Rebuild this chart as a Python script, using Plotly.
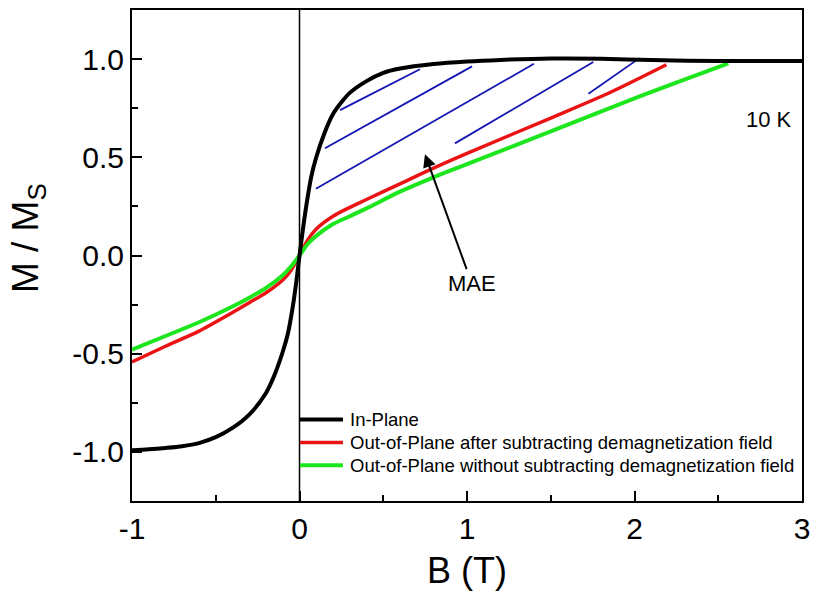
import plotly.graph_objects as go

# Field B (T) and reduced magnetisation M/Ms at 10 K
in_plane_b = [-1.0, -0.9, -0.8, -0.7, -0.6, -0.5, -0.4, -0.3, -0.2, -0.15, -0.1, -0.07,
              -0.04, -0.02, 0.0, 0.02, 0.04, 0.07, 0.1, 0.15, 0.2, 0.25, 0.3, 0.4,
              0.5, 0.6, 0.8, 1.0, 1.2, 1.5, 1.8, 2.1, 2.5, 3.0]
in_plane_m = [-0.992, -0.987, -0.980, -0.971, -0.955, -0.925, -0.878, -0.81, -0.70, -0.61,
              -0.49, -0.40, -0.26, -0.14, 0.0, 0.13, 0.25, 0.40, 0.50, 0.625, 0.72, 0.78,
              0.828, 0.888, 0.93, 0.952, 0.975, 0.988, 0.996, 1.003, 1.002, 0.995, 0.99, 0.99]

oop_sub_b = [-1.0, -0.8, -0.6, -0.4, -0.3, -0.2, -0.1, -0.05, 0.0, 0.05, 0.1, 0.2, 0.3,
             0.4, 0.6, 0.8, 1.0, 1.5, 1.854, 2.19]
oop_sub_m = [-0.542, -0.462, -0.385, -0.29, -0.24, -0.19, -0.125, -0.075, 0.0, 0.08, 0.135,
             0.20, 0.245, 0.285, 0.365, 0.445, 0.52, 0.70, 0.83, 0.971]

oop_raw_b = [-1.0, -0.8, -0.6, -0.4, -0.3, -0.2, -0.1, -0.05, 0.0, 0.05, 0.1, 0.2, 0.3,
             0.4, 0.6, 0.8, 1.0, 1.5, 2.0, 2.56]
oop_raw_m = [-0.479, -0.41, -0.34, -0.26, -0.215, -0.165, -0.10, -0.055, 0.0, 0.06, 0.10,
             0.16, 0.20, 0.24, 0.325, 0.398, 0.465, 0.632, 0.80, 0.978]

# Hatch strokes marking the anisotropy area (start B, start M, end B, end M)
hatch_b0 = [0.242, 0.152, 0.098, 0.928, 1.725]
hatch_m0 = [0.74, 0.546, 0.34, 0.571, 0.824]
hatch_b1 = [0.719, 1.03, 1.40, 1.754, 2.03]
hatch_m1 = [0.948, 0.963, 0.976, 0.985, 1.005]

x_ticks = [-1, 0, 1, 2, 3]
x_tick_text = ["-1", "0", "1", "2", "3"]
x_minor = [-0.5, 0.5, 1.5, 2.5]
y_ticks = [-1.0, -0.5, 0.0, 0.5, 1.0]
y_tick_text = ["-1.0", "-0.5", "0.0", "0.5", "1.0"]
y_minor = [-0.75, -0.25, 0.25, 0.75]

series_names = ["In-Plane",
                "Out-of-Plane after subtracting demagnetization field",
                "Out-of-Plane without subtracting demagnetization field"]
series_colors = ["black", "rgb(235,20,20)", "rgb(30,230,30)"]
series_widths = [4, 3.5, 4]

FONT = "Liberation Sans, Arial, sans-serif"

hx, hy = [], []
for b0, m0, b1, m1 in zip(hatch_b0, hatch_m0, hatch_b1, hatch_m1):
    hx += [b0, b1, None]
    hy += [m0, m1, None]

fig = go.Figure()
fig.add_trace(go.Scatter(x=hx, y=hy, mode="lines", showlegend=False,
                         line=dict(color="rgb(20,20,180)", width=1.8)))
# drawing order: red, green, then black on top
for idx, (bx, my) in [(1, (oop_sub_b, oop_sub_m)), (2, (oop_raw_b, oop_raw_m)),
                      (0, (in_plane_b, in_plane_m))]:
    fig.add_trace(go.Scatter(x=bx, y=my, mode="lines", name=series_names[idx],
                             showlegend=False,
                             line=dict(color=series_colors[idx], width=series_widths[idx],
                                       shape="spline", smoothing=0.8)))

# vertical reference line at B = 0
fig.add_shape(type="line", xref="x", yref="paper", x0=0, x1=0, y0=0, y1=1,
              line=dict(color="black", width=1.5))

# key in the lower part of the frame
key_rows = [0.166, 0.119, 0.073]
for name, color, width, yy in zip(series_names, series_colors, series_widths, key_rows):
    fig.add_shape(type="line", xref="paper", yref="paper", x0=0.2507, x1=0.3149,
                  y0=yy, y1=yy, line=dict(color=color, width=width))
    fig.add_annotation(xref="paper", yref="paper", x=0.3224, y=yy, xanchor="left",
                       yanchor="middle", text=name, showarrow=False,
                       font=dict(family=FONT, size=18.5, color="black"))

fig.add_annotation(x=2.803, y=0.69, text="10 K", showarrow=False,
                   font=dict(family=FONT, size=22, color="black"))
fig.add_annotation(x=0.749, y=0.516, ax=1.028, ay=-0.141, axref="x", ayref="y",
                   text="MAE", showarrow=True, arrowhead=2, arrowsize=1.3,
                   arrowwidth=2, arrowcolor="black",
                   font=dict(family=FONT, size=22, color="black"))

# vertical axis label
fig.add_annotation(xref="paper", yref="paper", x=-0.156, y=0.5365, textangle=-90,
                   xanchor="center", yanchor="middle", text="M / M<sub>S</sub>",
                   showarrow=False, font=dict(family=FONT, size=37, color="black"))

axis_common = dict(showline=True, linewidth=2, linecolor="black", mirror=True,
                   ticks="inside", ticklen=10, tickwidth=2, tickcolor="black",
                   showgrid=False, zeroline=False,
                   tickfont=dict(family=FONT, size=30, color="black"))

fig.update_xaxes(range=[-1, 3], tickmode="array", tickvals=x_ticks, ticktext=x_tick_text,
                 minor=dict(tickmode="array", tickvals=x_minor, ticks="inside",
                            ticklen=6, tickwidth=2, tickcolor="black"),
                 title=dict(text="B (T)", font=dict(family=FONT, size=36, color="black"),
                            standoff=14),
                 **axis_common)
fig.update_yaxes(range=[-1.25, 1.25], tickmode="array", tickvals=y_ticks, ticktext=y_tick_text,
                 minor=dict(tickmode="array", tickvals=y_minor, ticks="inside",
                            ticklen=6, tickwidth=2, tickcolor="black"),
                 **axis_common)

fig.update_layout(
    width=818, height=599,
    margin=dict(l=132, r=16, t=8, b=98),
    paper_bgcolor="white", plot_bgcolor="white",
    font=dict(family=FONT, color="black"),
    showlegend=False,
)

fig.write_html("out.html")
